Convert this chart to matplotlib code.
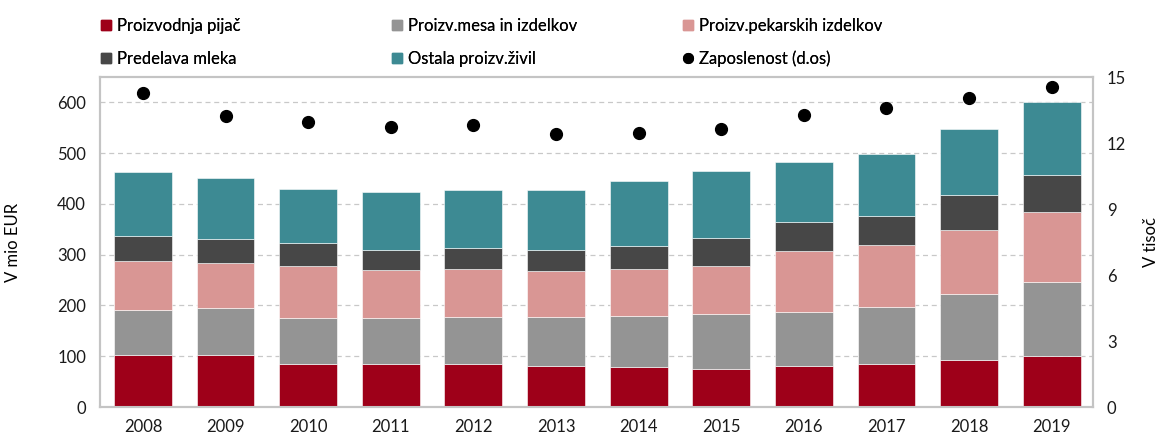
import numpy as np
import matplotlib
matplotlib.use("Agg")
import matplotlib.pyplot as plt
from matplotlib.lines import Line2D

plt.rcParams['font.family'] = ['Lato', 'DejaVu Sans']

# data (V mio EUR, stacked) + zaposlenost (V tisoč, right axis)
years = ["2008", "2009", "2010", "2011", "2012", "2013",
         "2014", "2015", "2016", "2017", "2018", "2019"]
pijace = [102, 102, 84, 84, 84, 80, 78, 74, 80, 85, 93, 100]
meso = [89, 93, 92, 92, 94, 98, 102, 109, 108, 111, 129, 147]
pekarski = [97, 89, 102, 94, 94, 90, 92, 94, 120, 124, 127, 137]
mleko = [49, 46, 46, 40, 42, 41, 46, 55, 56, 56, 68, 73]
ostalo = [126, 122, 105, 113, 114, 119, 127, 133, 118, 122, 131, 144]
zaposlenost = [14.26, 13.25, 12.95, 12.73, 12.83, 12.43,
               12.47, 12.64, 13.26, 13.6, 14.04, 14.55]

series = [
    ("Proizvodnja pijač", pijace, "#9E0019"),
    ("Proizv.mesa in izdelkov", meso, "#949494"),
    ("Proizv.pekarskih izdelkov", pekarski, "#D99694"),
    ("Predelava mleka", mleko, "#474747"),
    ("Ostala proizv.živil", ostalo, "#3D8A93"),
]

fig = plt.figure(figsize=(11.61, 4.38), dpi=100)
ax = fig.add_axes([100 / 1161, 31 / 438, 993 / 1161, 330 / 438])
ax2 = ax.twinx()

x = np.arange(len(years))
bottom = np.zeros(len(years))
for name, vals, col in series:
    ax.bar(x, vals, width=0.7, bottom=bottom, color=col,
           edgecolor="white", linewidth=0.4, zorder=3)
    bottom += np.array(vals)

ax2.plot(x, zaposlenost, linestyle="none", marker="o", markersize=8.5,
         color="black", zorder=4)

ax.set_xlim(-0.52, 11.5)
ax.set_ylim(0, 650)
ax.set_yticks(range(0, 601, 100))
ax2.set_ylim(0, 15)
ax2.set_yticks(range(0, 16, 3))
ax.set_xticks(x)
ax.set_xticklabels(years)

ax.yaxis.grid(True, linestyle=(0, (4, 3)), color="#C8C8C8", linewidth=0.9, zorder=0)
ax.set_axisbelow(True)

for a in (ax, ax2):
    for s in a.spines.values():
        s.set_color("#C4C4C4")
        s.set_linewidth(1.5)
    a.tick_params(length=0, labelsize=12, colors="#1a1a1a")
ax.tick_params(axis="y", pad=10)
ax.tick_params(axis="x", pad=9)
ax2.tick_params(axis="y", pad=10)

ax.set_ylabel("V mio EUR", fontsize=12, labelpad=26)
ax2.set_ylabel("V tisoč", fontsize=12, labelpad=12)

# legend: three columns placed separately
handles = {}
for name, vals, col in series:
    handles[name] = Line2D([], [], linestyle="none", marker="s", markersize=7,
                           color=col)
handles["Zaposlenost (d.os)"] = Line2D([], [], linestyle="none", marker="o",
                                       markersize=7, color="black")

cols = [["Proizvodnja pijač", "Predelava mleka"],
        ["Proizv.mesa in izdelkov", "Ostala proizv.živil"],
        ["Proizv.pekarskih izdelkov", "Zaposlenost (d.os)"]]
col_x = [100, 391, 682]
for cx, names in zip(col_x, cols):
    leg = fig.legend([handles[n] for n in names], names,
                     loc="upper left", bbox_to_anchor=(cx / 1161, 1 - 18 / 438),
                     frameon=False, fontsize=12, handlelength=0.7,
                     handletextpad=0.3, labelspacing=1.0, borderpad=0,
                     borderaxespad=0)
    fig.add_artist(leg)

fig.savefig("out.png", dpi=100)
